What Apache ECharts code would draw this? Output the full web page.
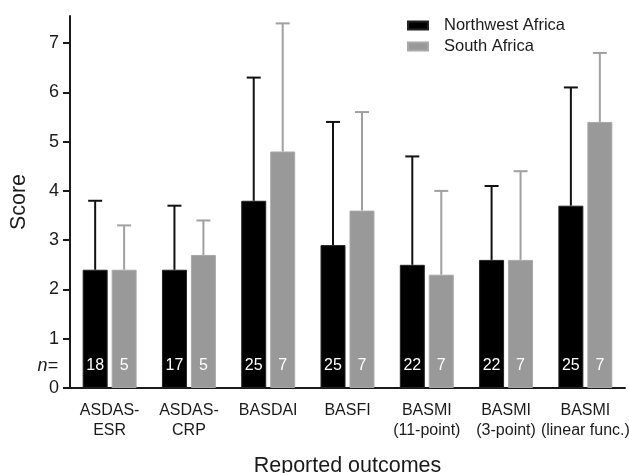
<!DOCTYPE html>
<html>
<head>
<meta charset="utf-8">
<script src="https://cdn.jsdelivr.net/npm/echarts@6/dist/echarts.min.js"></script>
<style>
html,body{margin:0;padding:0;background:#fff;}
#chart{width:629px;height:473px;}
</style>
</head>
<body>
<div id="chart"></div>
<script>
const categories = ['ASDAS-\nESR', 'ASDAS-\nCRP', 'BASDAI', 'BASFI', 'BASMI\n(11-point)', 'BASMI\n(3-point)', 'BASMI\n(linear func.)'];
const seriesNames = ['Northwest Africa', 'South Africa'];
const nwMean = [2.4, 2.4, 3.8, 2.9, 2.5, 2.6, 3.7];
const nwUpper = [3.8, 3.7, 6.3, 5.4, 4.7, 4.1, 6.1];
const nwN = [18, 17, 25, 25, 22, 22, 25];
const saMean = [2.4, 2.7, 4.8, 3.6, 2.3, 2.6, 5.4];
const saUpper = [3.3, 3.4, 7.4, 5.6, 4.0, 4.4, 6.8];
const saN = [5, 5, 7, 7, 7, 7, 7];
const yTicks = [0, 1, 2, 3, 4, 5, 6, 7];

const FONT = "'Liberation Sans', Arial, Helvetica, sans-serif";
const BAR_RATIO = 0.315;
const GAP_RATIO = 0.16;
const colors = ['#000000', '#999999'];
const errColors = ['#111111', '#a0a0a0'];

const chart = echarts.init(document.getElementById('chart'), null, {renderer: 'canvas'});

function errSeries(idx, means, uppers) {
  const side = idx === 0 ? -1 : 1;
  return {
    type: 'custom',
    name: seriesNames[idx] + ' err',
    z: 1,
    silent: true,
    data: means.map((m, i) => [i, m, uppers[i]]),
    renderItem: function (params, api) {
      const base = api.coord([api.value(0), api.value(1)]);
      const top = api.coord([api.value(0), api.value(2)]);
      const band = api.size([1, 0])[0];
      const bw = band * BAR_RATIO;
      const gap = bw * GAP_RATIO;
      const cx = base[0] + side * (bw + gap) / 2;
      const cap = bw * 0.56;
      const st = {stroke: errColors[idx], lineWidth: 2};
      return {
        type: 'group',
        children: [
          {type: 'line', shape: {x1: cx, y1: base[1], x2: cx, y2: top[1]}, style: st},
          {type: 'line', shape: {x1: cx - cap / 2, y1: top[1], x2: cx + cap / 2, y2: top[1]}, style: st}
        ]
      };
    }
  };
}

function barSeries(idx, means, ns) {
  return {
    type: 'bar',
    name: seriesNames[idx],
    z: 2,
    barWidth: (BAR_RATIO * 100) + '%',
    barGap: (GAP_RATIO * 100) + '%',
    itemStyle: {color: colors[idx], borderColor: idx === 0 ? '#222' : '#a8a8a8', borderWidth: 1},
    data: means.map((m, i) => ({
      value: m,
      label: {
        show: true,
        position: 'insideBottom',
        distance: 14,
        formatter: String(ns[i]),
        color: '#fff',
        fontSize: 16,
        fontFamily: FONT
      }
    }))
  };
}

const option = {
  animation: false,
  backgroundColor: '#fff',
  textStyle: {fontFamily: FONT},
  grid: {left: 70, right: 4, top: 16, bottom: 85, containLabel: false, outerBoundsMode: 'none'},
  legend: {
    data: seriesNames,
    orient: 'vertical',
    left: 407,
    top: 17,
    padding: 0,
    itemWidth: 20,
    itemHeight: 8,
    itemGap: 4,
    icon: 'rect',
    textStyle: {fontSize: 16.5, color: '#1a1a1a', fontFamily: FONT, padding: [0, 0, 0, 11]}
  },
  xAxis: {
    type: 'category',
    data: categories,
    name: 'Reported outcomes',
    nameLocation: 'middle',
    nameGap: 67,
    nameTextStyle: {fontSize: 21.5, color: '#1a1a1a', fontFamily: FONT},
    axisLine: {lineStyle: {color: '#1a1a1a', width: 2}},
    axisTick: {show: false},
    axisLabel: {margin: 13, fontSize: 16, lineHeight: 20, color: '#1a1a1a', fontFamily: FONT, interval: 0}
  },
  yAxis: {
    type: 'value',
    min: 0,
    max: 7.55,
    interval: 1,
    name: 'Score',
    nameLocation: 'middle',
    nameGap: 40,
    nameTextStyle: {fontSize: 21.5, color: '#1a1a1a', fontFamily: FONT},
    axisLine: {show: true, lineStyle: {color: '#1a1a1a', width: 2}},
    axisTick: {show: true, length: 7, lineStyle: {width: 2, color: '#1a1a1a'}, customValues: yTicks},
    axisLabel: {margin: 11, fontSize: 18, color: '#1a1a1a', fontFamily: FONT, customValues: yTicks},
    splitLine: {show: false}
  },
  series: [
    errSeries(0, nwMean, nwUpper),
    errSeries(1, saMean, saUpper),
    barSeries(0, nwMean, nwN),
    barSeries(1, saMean, saN)
  ]
};
chart.setOption(option);

// "n=" row marker, placed via the axis scales
const nY = chart.convertToPixel({yAxisIndex: 0}, 0.45);
const axisX = chart.convertToPixel({xAxisIndex: 0}, 0) - chart.getModel().getComponent('xAxis', 0).axis.getBandWidth() / 2;
chart.setOption({
  graphic: [{
    type: 'text',
    x: axisX - 12,
    y: nY,
    style: {text: 'n=', font: 'italic 18px ' + FONT, fill: '#1a1a1a', align: 'right', verticalAlign: 'middle'}
  }]
});
</script>
</body>
</html>
